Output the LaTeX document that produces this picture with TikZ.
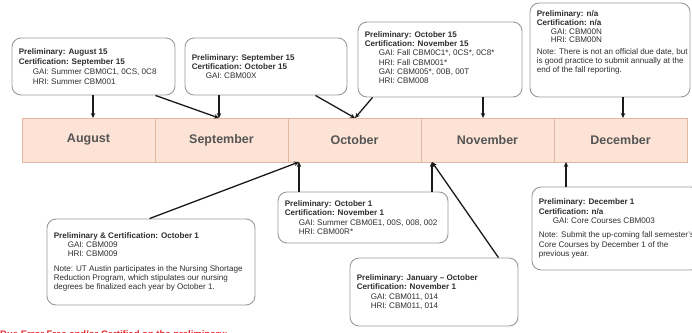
\documentclass[tikz,border=0pt]{standalone}
\usepackage{fontspec}
\setmainfont{Liberation Sans}
\usetikzlibrary{arrows.meta}

\definecolor{cellfill}{HTML}{FCE3D5}
\definecolor{cellline}{HTML}{E3B7A0}
\definecolor{monthgray}{HTML}{555555}
\definecolor{boxgray}{HTML}{9A9A9A}
\definecolor{inkgray}{HTML}{2E2E2E}
\definecolor{linkblack}{HTML}{1A1A1A}
\definecolor{alertred}{HTML}{E0242A}

\newcommand\gapin{\hspace*{14pt}}

\tikzset{
  note/.style={draw=boxgray, line width=0.9pt, rounded corners=9pt, fill=white, inner sep=0pt},
  info/.style={font=\fontsize{8.1}{9.3}\selectfont, text=inkgray, align=left, inner sep=0pt, anchor=west},
  month/.style={draw=cellline, fill=cellfill, line width=0.8pt, minimum width=133pt, minimum height=44pt,
                inner sep=0pt, font=\fontsize{12.5}{14}\selectfont\bfseries, text=monthgray},
  link/.style={line width=1.3pt, draw=linkblack, -{Stealth[length=5pt,width=4.5pt]}}
}

\begin{document}
\begin{tikzpicture}[x=1pt,y=-1pt]
\useasboundingbox (0,0) rectangle (692,332);
\clip (0,0) rectangle (692,332);

% month timeline
\node[month] (maug) at (88.5,140) {August};
\node[month] (msep) at (221.5,140) {September};
\node[month] (moct) at (354.5,140) {October};
\node[month] (mnov) at (487.5,140) {November};
\node[month] (mdec) at (620.5,140) {December};

% due dates on the timeline
\coordinate (aug15) at (93,118);
\coordinate (sep15) at (219,118);
\coordinate (oct15) at (355,118);
\coordinate (nov15) at (483,118);
\coordinate (dec15) at (623,118);
\coordinate (oct1) at (299,162);
\coordinate (nov1) at (432,162);
\coordinate (dec1) at (566,162);

% upper notes
\node[note, minimum width=163pt, minimum height=57pt] (augbox) at (93.5,66.5) {};
\node[info, font=\fontsize{8.1}{10}\selectfont] at ([xshift=7pt]augbox.west) {\textbf{Preliminary: August 15}\\\textbf{Certification: September 15}\\\gapin GAI: Summer CBM0C1, 0CS, 0C8\\\gapin HRI: Summer CBM001};

\node[note, minimum width=162pt, minimum height=57pt] (sepbox) at (266,66.5) {};
\node[info] at ([xshift=7pt]sepbox.west) {\textbf{Preliminary: September 15}\\\textbf{Certification: October 15}\\\gapin GAI: CBM00X};

\node[note, minimum width=164pt, minimum height=75pt] (octbox) at (440,59.5) {};
\node[info] at ([xshift=7pt,yshift=2pt]octbox.west) {\textbf{Preliminary: October 15}\\\textbf{Certification: November 15}\\\gapin GAI: Fall CBM0C1*, 0CS*, 0C8*\\\gapin HRI: Fall CBM001*\\\gapin GAI: CBM005*, 00B, 00T\\\gapin HRI: CBM008};

\node[note, minimum width=160pt, minimum height=94pt] (decbox) at (610,50) {};
\node[info, anchor=north west, font=\fontsize{8.1}{8.7}\selectfont] at ([xshift=7pt,yshift=-8pt]decbox.north west) {\textbf{Preliminary: n/a}\\\textbf{Certification: n/a}\\\gapin GAI: CBM00N\\\gapin HRI: CBM00N\\[3.5pt]Note: There is not an official due date, but\\is good practice to submit annually at the\\end of the fall reporting.};

% lower notes
\node[note, minimum width=208pt, minimum height=86pt] (boxA) at (151,262) {};
\node[info] at ([xshift=7pt]boxA.west) {\textbf{Preliminary \& Certification: October 1}\\\gapin GAI: CBM009\\\gapin HRI: CBM009\\[5pt]Note: UT Austin participates in the Nursing Shortage\\Reduction Program, which stipulates our nursing\\degrees be finalized each year by October 1.};

\node[note, minimum width=170pt, minimum height=51pt] (boxB) at (363,217.5) {};
\node[info] at ([xshift=7pt]boxB.west) {\textbf{Preliminary: October 1}\\\textbf{Certification: November 1}\\\gapin GAI: Summer CBM0E1, 00S, 008, 002\\\gapin HRI: CBM00R*};

\node[note, minimum width=168pt, minimum height=68pt] (boxC) at (434,292) {};
\node[info] at ([xshift=7pt]boxC.west) {\textbf{Preliminary: January – October}\\\textbf{Certification: November 1}\\\gapin GAI: CBM011, 014\\\gapin HRI: CBM011, 014};

\node[note, minimum width=168pt, minimum height=83pt] (boxD) at (616,228.5) {};
\node[info] at ([xshift=7pt]boxD.west) {\textbf{Preliminary: December 1}\\\textbf{Certification: n/a}\\\gapin GAI: Core Courses CBM003\\[5pt]Note: Submit the up-coming fall semester's\\Core Courses by December 1 of the\\previous year.};

% connectors from the upper notes
\draw[link] (augbox.south -| aug15) -- (aug15);
\draw[link] ([xshift=-20pt]augbox.south east) -- (sep15);
\draw[link] (sepbox.south -| sep15) -- (sep15);
\draw[link] ([xshift=-32pt]sepbox.south east) -- (oct15);
\draw[link] ([xshift=15pt]octbox.south west) -- (oct15);
\draw[link] (octbox.south -| nov15) -- (nov15);
\draw[link] (decbox.south -| dec15) -- (dec15);

% connectors from the lower notes
\draw[link] ([xshift=103pt]boxA.north west) -- (oct1);
\draw[link] (boxB.north -| oct1) -- (oct1);
\draw[link] (boxB.north -| nov1) -- (nov1);
\draw[link] ([xshift=-20pt]boxC.north east) -- (nov1);
\draw[link] (boxD.north -| dec1) -- (dec1);

% footer caption
\node[anchor=base west, inner sep=0pt, font=\fontsize{9.5}{11}\selectfont\bfseries, text=alertred] (footer) at (0,337) {Due Error Free and/or Certified on the preliminary:};
\end{tikzpicture}
\end{document}
